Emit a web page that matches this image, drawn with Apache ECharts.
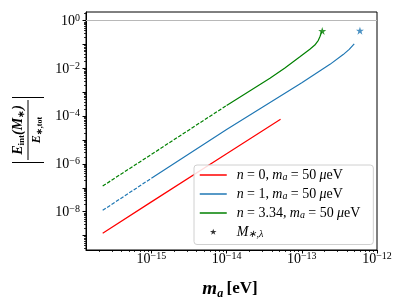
<!DOCTYPE html>
<html>
<head>
<meta charset="utf-8">
<script src="https://cdn.jsdelivr.net/npm/echarts@6/dist/echarts.min.js"></script>
<style>html,body{margin:0;padding:0;background:#fff}#c{width:407px;height:305px}</style>
</head>
<body>
<div id="c"></div>
<script>
// ---- data ----
const n0X = [2.25e-16, 1e-15, 1e-14, 5.22e-14];
const n0Y = [1.24e-9, 2.58e-8, 2.65e-6, 7.41e-5];

const n1DashX = [2.25e-16, 1e-15];
const n1DashY = [1.14e-8, 2.51e-7];
const n1X = [1e-15, 1e-14, 1e-13, 2.37e-13, 3.55e-13, 4.27e-13, 4.98e-13];
const n1Y = [2.51e-7, 2.75e-5, 2.51e-3, 1.48e-2, 3.80e-2, 6.3e-2, 0.106];

const n334DashX = [2.25e-16, 1e-15, 1e-14];
const n334DashY = [1.19e-7, 2.51e-6, 2.82e-4];
const n334X = [1e-14, 3.77e-14, 5.96e-14, 9.44e-14, 1.28e-13, 1.49e-13, 1.66e-13, 1.74e-13, 1.795e-13, 1.83e-13];
const n334Y = [2.82e-4, 3.89e-3, 1.05e-2, 3.09e-2, 6.4e-2, 9.55e-2, 0.151, 0.214, 0.277, 0.347];

const starX = [1.87e-13, 5.93e-13];
const starY = [0.371, 0.381];

const xMajorTicks = [1e-16, 1e-15, 1e-14, 1e-13, 1e-12];
const xLabelTicks = [1e-15, 1e-14, 1e-13, 1e-12];
const yMajorTicks = [1e-9, 1e-8, 1e-7, 1e-6, 1e-5, 1e-4, 1e-3, 1e-2, 1e-1, 1];
const yLabelTicks = [1e-8, 1e-6, 1e-4, 1e-2, 1];
const subs = [2, 3, 4, 5, 6, 7, 8, 9];
const xDecades = [-16, -15, -14, -13];
const yDecades = [-10, -9, -8, -7, -6, -5, -4, -3, -2, -1, 0];

// ---- helpers ----
const zip = (xs, ys) => xs.map((x, i) => [x, ys[i]]);
const xMin = 1.35e-16, xMax = 1e-12;
const yMin = 2.49e-10, yMax = 2.31;
const minorX = [];
xDecades.forEach(d => subs.forEach(s => { const v = s * Math.pow(10, d); if (v > xMin && v < xMax) minorX.push(v); }));
const minorY = [];
yDecades.forEach(d => subs.forEach(s => { const v = s * Math.pow(10, d); if (v > yMin && v < yMax) minorY.push(v); }));

const SERIF = 'Liberation Serif';
const RED = '#ff0000', BLUE = '#1f77b4', GREEN = '#008000';
const STAR = 'path://M50,0 L61.8,35.1 L98.9,35.1 L68.9,56.7 L80.3,91.9 L50,70.2 L19.7,91.9 L31.1,56.7 L1.1,35.1 L38.2,35.1 Z';
const STAR_PAD = 'path://M-55,-55 M155,155 M50,0 L61.8,35.1 L98.9,35.1 L68.9,56.7 L80.3,91.9 L50,70.2 L19.7,91.9 L31.1,56.7 L1.1,35.1 L38.2,35.1 Z';

const tickRich = {
  b: { fontFamily: SERIF, fontSize: 14, lineHeight: 15, verticalAlign: 'bottom', color: '#000' },
  s: { fontFamily: SERIF, fontSize: 10, lineHeight: 15, verticalAlign: 'top', color: '#000' }
};
function powLabel(v) {
  const e = Math.round(Math.log10(v));
  return '{b|10}{s|' + (e < 0 ? '\u2212' : '') + Math.abs(e) + '}';
}

const legRich = {
  i: { fontFamily: SERIF, fontSize: 14, fontStyle: 'italic', lineHeight: 15, color: '#000' },
  ip: { fontFamily: SERIF, fontSize: 14, fontStyle: 'italic', lineHeight: 15, color: '#000', padding: [0, 0, 0, 5] },
  r: { fontFamily: SERIF, fontSize: 14, lineHeight: 15, color: '#000' },
  sub: { fontFamily: SERIF, fontSize: 10, fontStyle: 'italic', lineHeight: 15, verticalAlign: 'bottom', color: '#000' }
};
const legText = {
  n0: '{ip|n} {r|= 0,} {i|m}{sub|a} {r|= 50} {i|\u03bc}{r|eV}',
  n1: '{ip|n} {r|= 1,} {i|m}{sub|a} {r|= 50} {i|\u03bc}{r|eV}',
  n334: '{ip|n} {r|= 3.34,} {i|m}{sub|a} {r|= 50} {i|\u03bc}{r|eV}',
  star: '{ip|M}{sub|\u2217,\u03bb}'
};

const lineSeries = (name, xs, ys, color, dashed) => ({
  name, type: 'line', data: zip(xs, ys), showSymbol: false, symbol: 'circle', symbolSize: 0,
  smooth: false,
  lineStyle: { color, width: 1.2, type: dashed ? [3.7, 1.6] : 'solid' },
  itemStyle: { color }, z: 3
});

const chart = echarts.init(document.getElementById('c'), null, { renderer: 'canvas' });
const option = {
  animation: false,
  backgroundColor: '#fff',
  grid: { left: 86, right: 30, top: 12, bottom: 55, show: true, borderColor: '#000', borderWidth: 1, backgroundColor: 'transparent' },
  xAxis: [{
    type: 'log', logBase: 10, min: xMin, max: xMax, gridIndex: 0, position: 'bottom',
    axisLine: { show: true, lineStyle: { color: '#000', width: 1 } },
    axisTick: { show: true, inside: false, length: 3.5, customValues: xMajorTicks, lineStyle: { color: '#000' } },
    axisLabel: { show: true, margin: 1, customValues: xLabelTicks, formatter: powLabel, rich: tickRich },
    splitLine: { show: false }, minorTick: { show: false }
  }, {
    type: 'log', logBase: 10, min: xMin, max: xMax, gridIndex: 0, position: 'bottom',
    axisLine: { show: false },
    axisTick: { show: true, inside: false, length: 2, customValues: minorX, lineStyle: { color: '#000', width: 0.8 } },
    axisLabel: { show: false }, splitLine: { show: false }
  }],
  yAxis: [{
    type: 'log', logBase: 10, min: yMin, max: yMax, gridIndex: 0, position: 'left',
    axisLine: { show: true, lineStyle: { color: '#000', width: 1 } },
    axisTick: { show: true, inside: false, length: 3.5, customValues: yMajorTicks, lineStyle: { color: '#000' } },
    axisLabel: { show: true, margin: 6, customValues: yLabelTicks, formatter: powLabel, rich: tickRich },
    splitLine: { show: false }, minorTick: { show: false }
  }, {
    type: 'log', logBase: 10, min: yMin, max: yMax, gridIndex: 0, position: 'left',
    axisLine: { show: false },
    axisTick: { show: true, inside: false, length: 2, customValues: minorY, lineStyle: { color: '#000', width: 0.8 } },
    axisLabel: { show: false }, splitLine: { show: false }
  }],
  legend: {
    orient: 'vertical', left: 194, top: 165,
    padding: [3, 13, 5, 5], itemGap: 4.5, itemWidth: 27, itemHeight: 14,
    backgroundColor: 'rgba(255,255,255,0.85)', borderColor: '#d0d0d0', borderWidth: 1, borderRadius: 3,
    data: [
      { name: 'n0', itemStyle: { opacity: 0 }, lineStyle: { width: 1.5 } },
      { name: 'n1', itemStyle: { opacity: 0 }, lineStyle: { width: 1.5 } },
      { name: 'n334', itemStyle: { opacity: 0 }, lineStyle: { width: 1.5 } },
      { name: 'star', icon: STAR_PAD, itemStyle: { color: '#000' } }
    ],
    formatter: name => legText[name],
    textStyle: { rich: legRich }
  },
  series: [
    Object.assign(lineSeries('n0', n0X, n0Y, RED, false), {
      markLine: {
        silent: true, symbol: 'none', label: { show: false },
        lineStyle: { color: '#b8b8b8', type: 'solid', width: 1 },
        data: [{ yAxis: 1 }]
      }
    }),
    lineSeries('n1dash', n1DashX, n1DashY, BLUE, true),
    lineSeries('n1', n1X, n1Y, BLUE, false),
    lineSeries('n334dash', n334DashX, n334DashY, GREEN, true),
    lineSeries('n334', n334X, n334Y, GREEN, false),
    {
      name: 'star', type: 'scatter', symbol: STAR, symbolSize: 8, z: 4,
      data: zip(starX, starY).map((p, i) => ({ value: p, itemStyle: { color: i === 0 ? GREEN : BLUE } })),
      itemStyle: { color: '#000' }
    }
  ],
  graphic: [
    {
      type: 'group', x: 28, y: 130, rotation: Math.PI / 2,
      children: [
        { type: 'text', x: 0, y: -2, style: {
            text: '{E|E}{s|int}{E|(}{E|M}{s|\u2217}{E|)}', align: 'center', verticalAlign: 'bottom',
            rich: {
              E: { fontFamily: SERIF, fontSize: 14, fontStyle: 'italic', fontWeight: 'bold', lineHeight: 16, color: '#000' },
              s: { fontFamily: SERIF, fontSize: 9, fontWeight: 'bold', lineHeight: 16, verticalAlign: 'bottom', color: '#000' }
            } } },
        { type: 'line', shape: { x1: -30, y1: 0, x2: 30, y2: 0 }, style: { stroke: '#000', lineWidth: 1 } },
        { type: 'text', x: 0, y: 2, style: {
            text: '{E|E}{s|\u2217,tot}', align: 'center', verticalAlign: 'top',
            rich: {
              E: { fontFamily: SERIF, fontSize: 12, fontStyle: 'italic', fontWeight: 'bold', lineHeight: 14, color: '#000' },
              s: { fontFamily: SERIF, fontSize: 8, fontWeight: 'bold', lineHeight: 14, verticalAlign: 'bottom', color: '#000' }
            } } },
        { type: 'line', shape: { x1: -32.5, y1: -16, x2: -32.5, y2: 16 }, style: { stroke: '#000', lineWidth: 1 } },
        { type: 'line', shape: { x1: 32.5, y1: -16, x2: 32.5, y2: 16 }, style: { stroke: '#000', lineWidth: 1 } }
      ]
    },
    {
      type: 'text', x: 230, y: 289, style: {
        text: '{m|m}{a|a} {t|[eV]}', align: 'center', verticalAlign: 'middle',
        rich: {
          m: { fontFamily: SERIF, fontSize: 19, fontStyle: 'italic', fontWeight: 'bold', lineHeight: 22, color: '#000' },
          a: { fontFamily: SERIF, fontSize: 12, fontStyle: 'italic', fontWeight: 'bold', lineHeight: 22, verticalAlign: 'bottom', color: '#000' },
          t: { fontFamily: SERIF, fontSize: 17, fontWeight: 'bold', lineHeight: 22, color: '#000' }
        }
      }
    }
  ]
};
chart.setOption(option);
</script>
</body>
</html>
